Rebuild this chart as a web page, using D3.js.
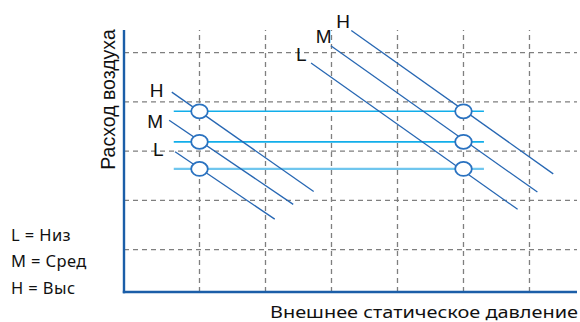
<!DOCTYPE html>
<html><head><meta charset="utf-8">
<script src="https://cdn.jsdelivr.net/npm/d3@7"></script>
<style>html,body{margin:0;padding:0;background:#fff;}svg{display:block;}</style>
</head><body><div id="chart"></div>
<script>
// ---- data ----
const gridX = [1, 2, 3, 4, 5, 6];
const gridY = [1, 2, 3, 4, 5];
const speeds = ["L", "M", "H"];
const flowLevels = [2.64, 3.19, 3.81];          // operating air flow for L, M, H
const flowSpan = [0.61, 5.31];                  // horizontal extent of the flow lines
const pointX = [1, 5];                          // operating pressure points
const curves = [
  {group: "left",  speed: "H", x0: 0.58, y0: 4.20, x1: 2.73, y1: 2.18},
  {group: "left",  speed: "M", x0: 0.54, y0: 3.63, x1: 2.42, y1: 1.92},
  {group: "left",  speed: "L", x0: 0.63, y0: 2.99, x1: 2.14, y1: 1.62},
  {group: "right", speed: "H", x0: 3.30, y0: 5.45, x1: 6.36, y1: 2.54},
  {group: "right", speed: "M", x0: 2.99, y0: 5.14, x1: 6.12, y1: 2.17},
  {group: "right", speed: "L", x0: 2.69, y0: 4.79, x1: 5.82, y1: 1.82}
];
const legendLines = ["L = Низ", "M = Сред", "H = Выс"];
const xTitle = "Внешнее статическое давление";
const yTitle = "Расход воздуха";

// ---- layout ----
const W = 580, H = 322;
const x = d3.scaleLinear().domain([-0.144, 6.72]).range([124, 577]);
const y = d3.scaleLinear().domain([0.141, 5.461]).range([292, 30]);

const svg = d3.select("#chart").append("svg").attr("width", W).attr("height", H);

// grid
svg.append("g").selectAll("line").data(gridY).join("line")
  .attr("x1", x.range()[0]).attr("x2", x.range()[1])
  .attr("y1", d => y(d)).attr("y2", d => y(d))
  .attr("stroke", "#7f7f7f").attr("stroke-width", 1.3).attr("stroke-dasharray", "5,4");
svg.append("g").selectAll("line").data(gridX).join("line")
  .attr("x1", d => x(d)).attr("x2", d => x(d))
  .attr("y1", y.range()[0]).attr("y2", y.range()[1])
  .attr("stroke", "#7f7f7f").attr("stroke-width", 1.3).attr("stroke-dasharray", "5,4");

// flow lines
const flowColors = {L: "#6fc6ee", M: "#12aeea", H: "#12aeea"};
const flowWidths = {L: 2.2, M: 1.6, H: 1.6};
svg.append("g").selectAll("line").data(speeds).join("line")
  .attr("x1", x(flowSpan[0])).attr("x2", x(flowSpan[1]))
  .attr("y1", (d, i) => y(flowLevels[i])).attr("y2", (d, i) => y(flowLevels[i]))
  .attr("stroke", d => flowColors[d]).attr("stroke-width", d => flowWidths[d]);

// curves
svg.append("g").selectAll("line").data(curves).join("line")
  .attr("x1", d => x(d.x0)).attr("y1", d => y(d.y0))
  .attr("x2", d => x(d.x1)).attr("y2", d => y(d.y1))
  .attr("stroke", "#2767b3").attr("stroke-width", 1.3);

// curve labels
svg.append("g").selectAll("text").data(curves).join("text")
  .attr("x", d => x(d.x0) + (d.group === "left" ? -22 : -15))
  .attr("y", d => y(d.y0) + (d.group === "left" ? (d.speed === "M" ? 8 : 4.5) : -2.5))
  .attr("font-family", "Liberation Sans, Arial, sans-serif")
  .attr("font-size", 19).attr("fill", "#111").text(d => d.speed);

// operating points
const pts = [];
pointX.forEach(px => flowLevels.forEach(fl => pts.push([px, fl])));
svg.append("g").selectAll("ellipse").data(pts).join("ellipse")
  .attr("cx", d => x(d[0])).attr("cy", d => y(d[1]))
  .attr("rx", 8.3).attr("ry", 7)
  .attr("fill", "#fff").attr("stroke", "#2a72c0").attr("stroke-width", 1.8);

// axes
svg.append("line").attr("x1", x.range()[0]).attr("x2", x.range()[0])
  .attr("y1", y.range()[1]).attr("y2", y.range()[0] + 1.2)
  .attr("stroke", "#1b5ea8").attr("stroke-width", 2.4);
svg.append("line").attr("x1", x.range()[0] - 1.2).attr("x2", x.range()[1])
  .attr("y1", y.range()[0]).attr("y2", y.range()[0])
  .attr("stroke", "#1b5ea8").attr("stroke-width", 2.4);

// titles
svg.append("text").attr("x", 578).attr("y", 317.5).attr("text-anchor", "end")
  .attr("font-family", "Noto Sans, sans-serif").attr("font-size", 16.5).attr("fill", "#111")
  .attr("textLength", 308).attr("lengthAdjust", "spacingAndGlyphs").text(xTitle);
svg.append("text").attr("transform", "translate(115,99.5) rotate(-90)")
  .attr("text-anchor", "middle")
  .attr("font-family", "Liberation Sans, Arial, sans-serif").attr("font-size", 19.5).attr("fill", "#111")
  .text(yTitle);

// legend
svg.append("g").selectAll("text").data(legendLines).join("text")
  .attr("x", 11).attr("y", (d, i) => 240.7 + i * 26.5)
  .attr("font-family", "Noto Sans, sans-serif").attr("font-size", 16.5)
  .attr("letter-spacing", 0.4).attr("fill", "#111")
  .text(d => d);
</script></body></html>
